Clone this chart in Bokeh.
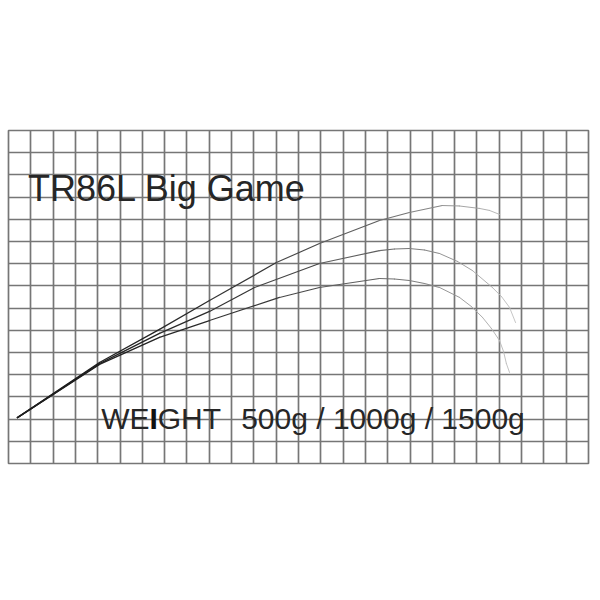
from bokeh.plotting import figure
from bokeh.models import FixedTicker
from bokeh.core.properties import value
from bokeh.embed import file_html
from bokeh.resources import INLINE

# chart grid: 26 x 15 cells
n_cols = 26
n_rows = 15

title = "TR86L Big Game"
weights = ["500g", "1000g", "1500g"]

# rod bend curves (grid units)
x_500 = [0.40, 4.08, 6.77, 9.01, 12.01, 13.94, 16.63, 17.97, 19.45, 20.21, 21.11, 21.56, 22.01]
y_500 = [2.07, 4.55, 6.04, 7.34, 9.05, 9.91, 10.95, 11.31, 11.62, 11.60, 11.49, 11.40, 11.22]

x_1000 = [0.40, 4.08, 6.77, 9.01, 11.03, 13.94, 16.63, 17.30, 17.97, 18.65, 19.32, 20.13,
          20.80, 21.69, 22.10, 22.46, 22.73]
y_1000 = [2.07, 4.50, 5.86, 6.85, 7.93, 9.01, 9.59, 9.66, 9.68, 9.62, 9.46, 9.10,
          8.69, 7.93, 7.52, 7.03, 6.35]

x_1500 = [0.40, 4.08, 6.77, 9.01, 12.15, 13.94, 16.63, 17.30, 17.97, 18.65, 19.32, 20.22,
          20.75, 21.25, 21.65, 22.01, 22.19, 22.32, 22.46]
y_1500 = [2.07, 4.46, 5.68, 6.44, 7.48, 7.93, 8.33, 8.31, 8.24, 8.11, 7.93, 7.48,
          7.07, 6.58, 6.08, 5.54, 5.05, 4.50, 4.10]

curves = [(x_500, y_500), (x_1000, y_1000), (x_1500, y_1500)]


p = figure(frame_width=580, frame_height=333, x_range=(0, n_cols), y_range=(0, n_rows),
           output_backend="svg", toolbar_location=None,
           min_border_left=8, min_border_right=2, min_border_top=130, min_border_bottom=20)
p.axis.visible = False
p.background_fill_color = "white"
p.border_fill_color = "white"
p.outline_line_color = "#767676"
p.outline_line_width = 1.7

p.xgrid.ticker = FixedTicker(ticks=list(range(n_cols + 1)))
p.ygrid.ticker = FixedTicker(ticks=list(range(n_rows + 1)))
for g in (p.xgrid, p.ygrid):
    g.grid_line_color = "#767676"
    g.grid_line_width = 1.7
    g.grid_line_alpha = 1.0


def fade(t):
    # dark at the butt, light grey at the tip
    c = int(30 + 170 * t ** 2.4)
    return "#%02x%02x%02x" % (c, c, c)


for xs, ys in curves:
    x0, x1 = xs[:-1], xs[1:]
    y0, y1 = ys[:-1], ys[1:]
    ts = [((a + b) / 2) / 23.0 for a, b in zip(x0, x1)]
    p.segment(x0=x0, y0=y0, x1=x1, y1=y1,
              line_color=[fade(t) for t in ts],
              line_width=[1.5 - 0.6 * t for t in ts],
              line_cap="round")

font = value("Liberation Sans")
ink = "#262626"
p.text(x=[0.87], y=[12.37], text=[title], text_font=font, text_font_size="36px",
       text_color=ink, text_baseline="alphabetic")

p.text(x=[4.155], y=[2.03], text=["WE"], text_font=font, text_font_size="30px",
       text_color=ink, text_baseline="alphabetic")
p.text(x=[6.32], y=[2.03], text=["I"], text_font=font, text_font_size="30px",
       text_font_style="bold", text_color="#111111", text_baseline="alphabetic")
p.text(x=[6.69], y=[2.03], text=["GHT"], text_font=font, text_font_size="30px",
       text_color=ink, text_baseline="alphabetic")
p.text(x=[10.43], y=[2.03], text=[" / ".join(weights)], text_font=font, text_font_size="30px",
       text_color=ink, text_baseline="alphabetic")

open("out.html", "w").write(file_html(p, INLINE))
